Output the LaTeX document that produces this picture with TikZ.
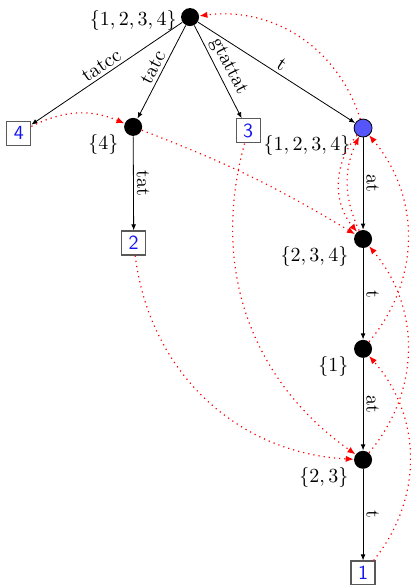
\documentclass[tikz,border=0pt]{standalone}
\usepackage{amsmath,amssymb}
\usepackage{tikz}
\usetikzlibrary{arrows.meta,positioning,calc}
\usepackage{xcolor}
\definecolor{nodeblue}{RGB}{85,85,250}
\definecolor{leafblue}{RGB}{20,20,240}
\tikzset{
    inner/.style={circle, fill=black, minimum size=9pt, inner sep=0pt},
    rootnode/.style={circle, draw=black, fill=nodeblue, minimum size=9pt, inner sep=0pt},
    leaf/.style={rectangle, draw=black!65, semithick, fill=white, minimum size=12pt, inner sep=0pt, font=\sffamily, text=leafblue},
    edge/.style={-{Latex[length=3pt,width=2.4pt]}, black},
    slink/.style={-{Latex[length=4pt,width=3.2pt]}, red, dotted, semithick},
    elabel/.style={sloped, above, midway, inner sep=1.5pt},
    lbl/.style={xshift=-0.5pt, yshift=3pt},
}
\begin{document}
\begin{tikzpicture}
    \useasboundingbox (0,0) rectangle (7.22,-10.28);

    % Internal nodes
    \node[inner, label={[xshift=1.5pt, yshift=-1.5pt]left:$\{1,2,3,4\}$}] (root) at (3.34, -0.30) {};
    \node[inner, label={[lbl]below left:$\{4\}$}] (n4) at (2.34, -2.23) {};
    \node[rootnode, label={[lbl, xshift=1pt]below left:$\{1,2,3,4\}$}] (nt) at (6.38, -2.25) {};
    \node[inner, label={[lbl]below left:$\{2,3,4\}$}] (n234) at (6.38, -4.20) {};
    \node[inner, label={[lbl]below left:$\{1\}$}] (n1) at (6.38, -6.13) {};
    \node[inner, label={[lbl]below left:$\{2,3\}$}] (n23) at (6.38, -8.08) {};

    % Leaves
    \node[leaf] (l4) at (0.33, -2.34) {4};
    \node[leaf] (l3) at (4.36, -2.30) {3};
    \node[leaf] (l2) at (2.35, -4.27) {2};
    \node[leaf] (l1) at (6.38, -10.07) {1};

    % Tree edges
    \draw[edge] (root) -- node[elabel] {tatcc} (l4);
    \draw[edge] (root) -- node[elabel] {tatc} (n4);
    \draw[edge] (root) -- node[elabel] {gtattat} (l3);
    \draw[edge] (root) -- node[elabel] {t} (nt);
    \draw[edge] (n4) -- node[elabel] {tat} (l2);
    \draw[edge] (nt) -- node[elabel] {at} (n234);
    \draw[edge] (n234) -- node[elabel] {t} (n1);
    \draw[edge] (n1) -- node[elabel] {at} (n23);
    \draw[edge] (n23) -- node[elabel] {t} (l1);

    % Links
    \draw[slink] (l4) to[bend left=25] (n4);
    \draw[slink] (n4) to[bend left=5] (n234);
    \draw[slink] (l3) to[bend right=35] (n23);
    \draw[slink] (l2) to[bend right=40] (n23);
    \draw[slink] (nt) to[bend right=40] (root);
    \draw[slink] (n234) to[bend left=25] (nt);
    \draw[slink] (nt) to[bend right=40] (n234);
    \draw[slink] (n1) to[bend right=40] (nt);
    \draw[slink] (n23) to[bend right=40] (n234);
    \draw[slink] (l1) to[bend right=40] (n1);
\end{tikzpicture}
\end{document}
